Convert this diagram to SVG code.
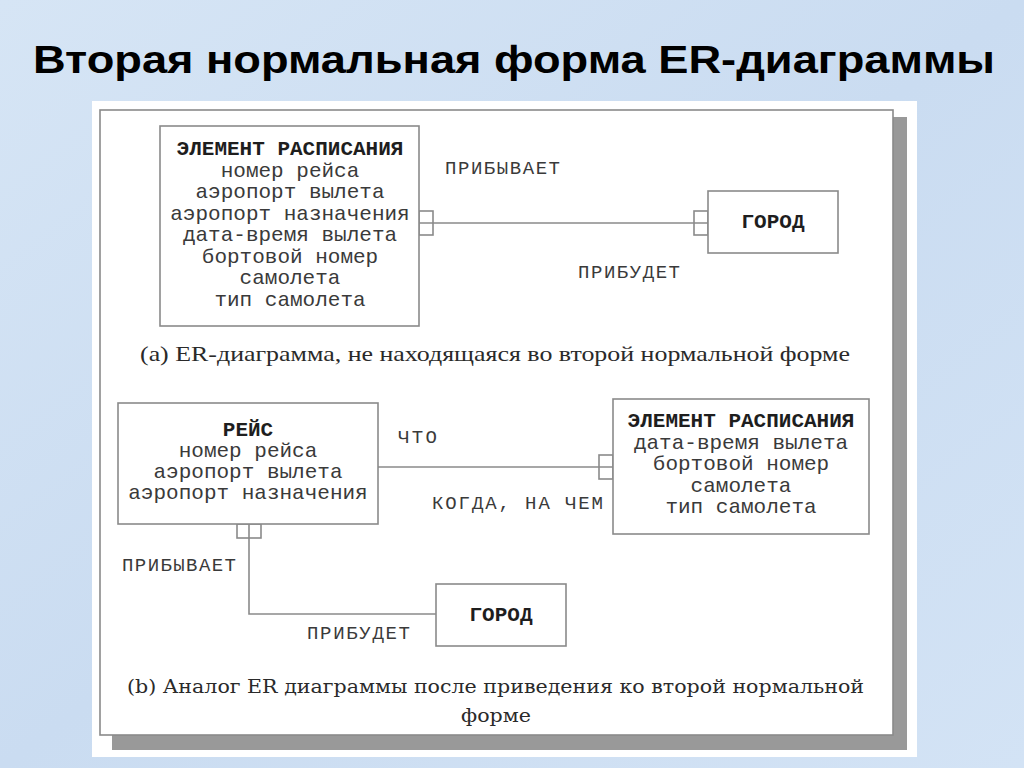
<svg xmlns="http://www.w3.org/2000/svg" width="1024" height="768" viewBox="0 0 1024 768">
<style>
.ln{fill:none;stroke:#8a8a8a;stroke-width:1.6}
.box{fill:#fff;stroke:#8a8a8a;stroke-width:1.6}
.m{font-family:"Liberation Mono","Courier New",monospace;font-size:21px;fill:#3a3a3a;text-anchor:middle}
.h{font-weight:bold;fill:#1e1e1e}
.lb{font-family:"Liberation Mono","Courier New",monospace;font-size:19px;fill:#3a3a3a}
.cap{font-family:"Liberation Serif","Times New Roman",serif;font-size:22px;fill:#2a2a2a}
.capb{font-family:"DejaVu Serif","Liberation Serif",serif;font-size:19px;fill:#2a2a2a}
</style>
<defs>
<linearGradient id="bg" x1="0" y1="0" x2="1" y2="1">
<stop offset="0" stop-color="#d6e5f5"/>
<stop offset="0.5" stop-color="#cadcf1"/>
<stop offset="1" stop-color="#d3e3f5"/>
</linearGradient>
</defs>
<rect x="0" y="0" width="1024" height="768" fill="url(#bg)"/>
<text x="33" y="73" font-family="'Liberation Sans',Arial,sans-serif" font-size="39" font-weight="bold" fill="#000" textLength="962" lengthAdjust="spacingAndGlyphs">Вторая нормальная форма ER-диаграммы</text>
<g id="panel">
<rect x="92" y="101" width="825" height="656" fill="#fff"/>
<rect x="112" y="117" width="795" height="633" fill="#999"/>
<rect x="100" y="110" width="793" height="625" fill="#fff" stroke="#8a8a8a" stroke-width="1.6"/>
</g>
<g id="connectors">
<line class="ln" x1="419" y1="223" x2="708" y2="223"/>
<rect class="ln" x="419" y="211" width="14" height="24"/>
<rect class="ln" x="694" y="211" width="14" height="24"/>
<line class="ln" x1="378" y1="467" x2="613" y2="467"/>
<rect class="ln" x="599" y="455" width="14" height="24"/>
<polyline class="ln" points="249,524 249,614 436,614"/>
<rect class="ln" x="237" y="524" width="24" height="14"/>
</g>
<g id="elem1">
<rect class="box" x="160" y="126" width="259" height="200"/>
<text class="m h" x="290" y="155">ЭЛЕМЕНТ РАСПИСАНИЯ</text>
<text class="m" x="290" y="177">номер рейса</text>
<text class="m" x="290" y="198">аэропорт вылета</text>
<text class="m" x="290" y="220">аэропорт назначения</text>
<text class="m" x="290" y="241">дата-время вылета</text>
<text class="m" x="290" y="263">бортовой номер</text>
<text class="m" x="290" y="284">самолета</text>
<text class="m" x="290" y="306">тип самолета</text>
</g>
<g id="gorod1">
<rect class="box" x="708" y="191" width="130" height="62"/>
<text class="m h" x="773" y="228">ГОРОД</text>
</g>
<g id="labels-a">
<text class="lb" x="445" y="174" textLength="115">ПРИБЫВАЕТ</text>
<text class="lb" x="578" y="278" textLength="102">ПРИБУДЕТ</text>
</g>
<text class="cap" x="140" y="361" textLength="710" lengthAdjust="spacingAndGlyphs">(a) ER-диаграмма, не находящаяся во второй нормальной форме</text>
<g id="reis">
<rect class="box" x="118" y="403" width="260" height="121"/>
<text class="m h" x="248" y="436">РЕЙС</text>
<text class="m" x="248" y="457">номер рейса</text>
<text class="m" x="248" y="478">аэропорт вылета</text>
<text class="m" x="248" y="499">аэропорт назначения</text>
</g>
<g id="elem2">
<rect class="box" x="613" y="399" width="256" height="135"/>
<text class="m h" x="741" y="427">ЭЛЕМЕНТ РАСПИСАНИЯ</text>
<text class="m" x="741" y="449">дата-время вылета</text>
<text class="m" x="741" y="470">бортовой номер</text>
<text class="m" x="741" y="492">самолета</text>
<text class="m" x="741" y="513">тип самолета</text>
</g>
<g id="gorod2">
<rect class="box" x="436" y="584" width="130" height="62"/>
<text class="m h" x="501" y="621">ГОРОД</text>
</g>
<g id="labels-b">
<text class="lb" x="398" y="443" textLength="39">ЧТО</text>
<text class="lb" x="432" y="509" textLength="171">КОГДА, НА ЧЕМ</text>
<text class="lb" x="122" y="571" textLength="114">ПРИБЫВАЕТ</text>
<text class="lb" x="307" y="639" textLength="103">ПРИБУДЕТ</text>
</g>
<text class="capb" x="127" y="693" textLength="737" lengthAdjust="spacingAndGlyphs">(b) Аналог ER диаграммы после приведения ко второй нормальной</text>
<text class="capb" x="461" y="722" textLength="70" lengthAdjust="spacingAndGlyphs">форме</text>
</svg>
